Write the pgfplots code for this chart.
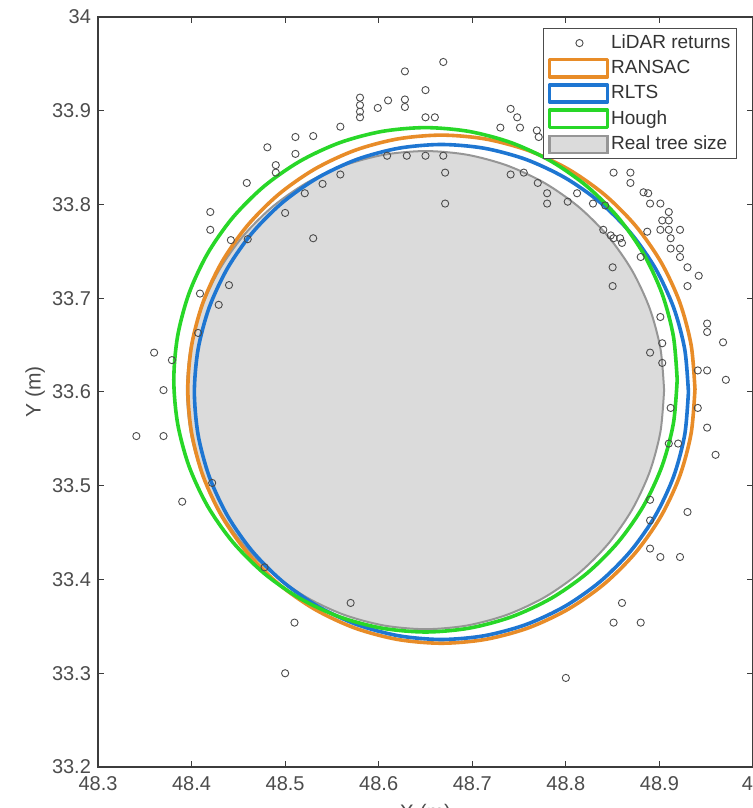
\documentclass[border=0pt]{standalone}
\usepackage{pgfplots}
\pgfplotsset{compat=1.18}
\usepackage{fontspec}
\setmainfont{Liberation Sans}
\definecolor{ransac}{RGB}{232,140,40}
\definecolor{rlts}{RGB}{30,118,210}
\definecolor{hough}{RGB}{40,215,40}
\definecolor{treefill}{RGB}{219,219,219}
\definecolor{treeedge}{RGB}{150,150,150}
\definecolor{axgray}{RGB}{60,60,60}

\pgfplotstableread{
x y
48.9050 33.6020
48.9011 33.6463
48.8896 33.6892
48.8708 33.7295
48.8453 33.7659
48.8139 33.7973
48.7775 33.8228
48.7372 33.8416
48.6943 33.8531
48.6500 33.8570
48.6057 33.8531
48.5628 33.8416
48.5225 33.8228
48.4861 33.7973
48.4547 33.7659
48.4292 33.7295
48.4104 33.6892
48.3989 33.6463
48.3950 33.6020
48.3989 33.5577
48.4104 33.5148
48.4292 33.4745
48.4547 33.4381
48.4861 33.4067
48.5225 33.3812
48.5628 33.3624
48.6057 33.3509
48.6500 33.3470
48.6943 33.3509
48.7372 33.3624
48.7775 33.3812
48.8139 33.4067
48.8453 33.4381
48.8708 33.4745
48.8896 33.5148
48.9011 33.5577
48.9050 33.6020
}\realtree

\pgfplotstableread{
x y
48.9380 33.6030
48.9339 33.6500
48.9217 33.6957
48.9017 33.7385
48.8746 33.7772
48.8412 33.8106
48.8025 33.8377
48.7597 33.8577
48.7140 33.8699
48.6670 33.8740
48.6200 33.8699
48.5743 33.8577
48.5315 33.8377
48.4928 33.8106
48.4594 33.7772
48.4323 33.7385
48.4123 33.6957
48.4001 33.6500
48.3960 33.6030
48.4001 33.5560
48.4123 33.5103
48.4323 33.4675
48.4594 33.4288
48.4928 33.3954
48.5315 33.3683
48.5743 33.3483
48.6200 33.3361
48.6670 33.3320
48.7140 33.3361
48.7597 33.3483
48.8025 33.3683
48.8412 33.3954
48.8746 33.4288
48.9017 33.4675
48.9217 33.5103
48.9339 33.5560
48.9380 33.6030
}\ransactab

\pgfplotstableread{
x y
48.9310 33.6000
48.9270 33.6458
48.9151 33.6903
48.8956 33.7320
48.8692 33.7697
48.8367 33.8022
48.7990 33.8286
48.7573 33.8481
48.7128 33.8600
48.6670 33.8640
48.6212 33.8600
48.5767 33.8481
48.5350 33.8286
48.4973 33.8022
48.4648 33.7697
48.4384 33.7320
48.4189 33.6903
48.4070 33.6458
48.4030 33.6000
48.4070 33.5542
48.4189 33.5097
48.4384 33.4680
48.4648 33.4303
48.4973 33.3978
48.5350 33.3714
48.5767 33.3519
48.6212 33.3400
48.6670 33.3360
48.7128 33.3400
48.7573 33.3519
48.7990 33.3714
48.8367 33.3978
48.8692 33.4303
48.8956 33.4680
48.9151 33.5097
48.9270 33.5542
48.9310 33.6000
}\rltstab

\pgfplotstableread{
x y
48.9190 33.6130
48.9149 33.6597
48.9028 33.7050
48.8830 33.7475
48.8561 33.7859
48.8229 33.8191
48.7845 33.8460
48.7420 33.8658
48.6967 33.8779
48.6500 33.8820
48.6033 33.8779
48.5580 33.8658
48.5155 33.8460
48.4771 33.8191
48.4439 33.7859
48.4170 33.7475
48.3972 33.7050
48.3851 33.6597
48.3810 33.6130
48.3851 33.5663
48.3972 33.5210
48.4170 33.4785
48.4439 33.4401
48.4771 33.4069
48.5155 33.3800
48.5580 33.3602
48.6033 33.3481
48.6500 33.3440
48.6967 33.3481
48.7420 33.3602
48.7845 33.3800
48.8229 33.4069
48.8561 33.4401
48.8830 33.4785
48.9028 33.5210
48.9149 33.5663
48.9190 33.6130
}\houghtab

\pgfplotstableread{
x y
48.580 33.914
48.580 33.906
48.580 33.899
48.580 33.893
48.599 33.903
48.610 33.911
48.628 33.942
48.669 33.952
48.650 33.922
48.628 33.912
48.628 33.904
48.650 33.893
48.660 33.893
48.741 33.902
48.748 33.893
48.730 33.882
48.751 33.882
48.769 33.879
48.771 33.872
48.559 33.883
48.511 33.872
48.530 33.873
48.481 33.861
48.511 33.854
48.490 33.842
48.490 33.834
48.459 33.823
48.420 33.792
48.420 33.773
48.442 33.762
48.671 33.834
48.671 33.801
48.630 33.852
48.650 33.852
48.669 33.852
48.609 33.852
48.741 33.832
48.755 33.834
48.770 33.823
48.780 33.812
48.780 33.801
48.802 33.803
48.812 33.812
48.500 33.791
48.540 33.822
48.521 33.812
48.559 33.832
48.530 33.764
48.460 33.763
48.440 33.714
48.429 33.693
48.360 33.642
48.370 33.602
48.341 33.553
48.370 33.553
48.390 33.483
48.409 33.705
48.407 33.663
48.379 33.634
48.422 33.503
48.851 33.834
48.869 33.834
48.869 33.823
48.883 33.813
48.888 33.812
48.890 33.801
48.901 33.801
48.910 33.792
48.903 33.783
48.910 33.783
48.910 33.773
48.922 33.773
48.901 33.773
48.912 33.764
48.912 33.753
48.922 33.753
48.922 33.744
48.930 33.733
48.942 33.724
48.930 33.713
48.850 33.733
48.850 33.713
48.951 33.673
48.951 33.664
48.968 33.653
48.842 33.799
48.829 33.801
48.840 33.773
48.848 33.767
48.851 33.764
48.858 33.764
48.860 33.759
48.880 33.744
48.887 33.771
48.901 33.680
48.903 33.652
48.941 33.623
48.951 33.623
48.971 33.613
48.941 33.583
48.951 33.562
48.960 33.533
48.930 33.472
48.912 33.583
48.910 33.545
48.920 33.545
48.903 33.631
48.890 33.642
48.890 33.433
48.901 33.424
48.922 33.424
48.860 33.375
48.851 33.354
48.880 33.354
48.890 33.463
48.890 33.485
48.800 33.295
48.570 33.375
48.510 33.354
48.500 33.300
48.478 33.413
}\lidar

\pgfplotsset{
  lidarleg/.style={legend image code/.code={\draw[draw=black!70, line width=0.45pt] (15pt,0pt) circle[radius=1.8pt];}},
  ransacleg/.style={legend image code/.code={\draw[draw=ransac, line width=1.7pt, fill=white] (0pt,-4.3pt) rectangle (29pt,4.3pt);}},
  rltsleg/.style={legend image code/.code={\draw[draw=rlts, line width=1.7pt, fill=white] (0pt,-4.3pt) rectangle (29pt,4.3pt);}},
  houghleg/.style={legend image code/.code={\draw[draw=hough, line width=1.7pt, fill=white] (0pt,-4.3pt) rectangle (29pt,4.3pt);}},
  treeleg/.style={legend image code/.code={\draw[draw=treeedge, line width=1.2pt, fill=treefill] (0pt,-4.3pt) rectangle (29pt,4.3pt);}},
}

\begin{document}
\begin{tikzpicture}
\begin{axis}[
  name=ax,
  scale only axis,
  width=327.5pt, height=375pt,
  xmin=48.3, xmax=49, ymin=33.2, ymax=34,
  xtick={48.3,48.4,48.5,48.6,48.7,48.8,48.9,49},
  ytick={33.2,33.3,33.4,33.5,33.6,33.7,33.8,33.9,34},
  xticklabels={48.3,48.4,48.5,48.6,48.7,48.8,48.9,49},
  yticklabels={33.2,33.3,33.4,33.5,33.6,33.7,33.8,33.9,34},
  tick align=inside,
  major tick length=3pt,
  axis line style={axgray, line width=0.6pt},
  tick style={axgray, line width=0.5pt},
  ticklabel style={font=\fontsize{10}{12}\selectfont, text=black!70},
  xticklabel style={yshift=-1pt},
  xlabel={X (m)}, ylabel={Y (m)},
  label style={font=\fontsize{10.5}{12}\selectfont, text=black!70},
  x label style={at={(axis description cs:0.5,-0.04)}, anchor=north},
  y label style={at={(axis description cs:-0.096,0.5)}, anchor=center},
  legend cell align=left,
  legend style={at={(1,1)}, anchor=north east, xshift=-8pt, yshift=-5.5pt,
    draw=black!70, line width=0.5pt, fill=white,
    font=\fontsize{9.5}{11}\selectfont, text=black!80,
    inner xsep=2pt, inner ysep=1.5pt, row sep=1.2pt,
    nodes={inner xsep=1pt, inner ysep=1.6pt}},
]
\addplot[smooth, fill=treefill, draw=treeedge, line width=1pt, forget plot] table {\realtree} -- cycle;

\addplot[only marks, mark=o, mark size=1.8pt, mark options={draw=black!70, line width=0.45pt}, lidarleg]
  table {\lidar};
\addlegendentry{LiDAR returns}

\addplot[smooth, draw=ransac, line width=1.8pt, line join=round, ransacleg] table {\ransactab};
\addlegendentry{RANSAC}

\addplot[smooth, draw=rlts, line width=1.8pt, line join=round, rltsleg] table {\rltstab};
\addlegendentry{RLTS}

\addplot[smooth, draw=hough, line width=1.8pt, line join=round, houghleg] table {\houghtab};
\addlegendentry{Hough}

\addlegendimage{treeleg}
\addlegendentry{Real tree size}
\end{axis}
\pgfresetboundingbox
\path[use as bounding box] ([xshift=-49pt,yshift=-20.5pt]ax.south west) rectangle ([yshift=8.5pt]ax.north east);
\end{tikzpicture}
\end{document}
